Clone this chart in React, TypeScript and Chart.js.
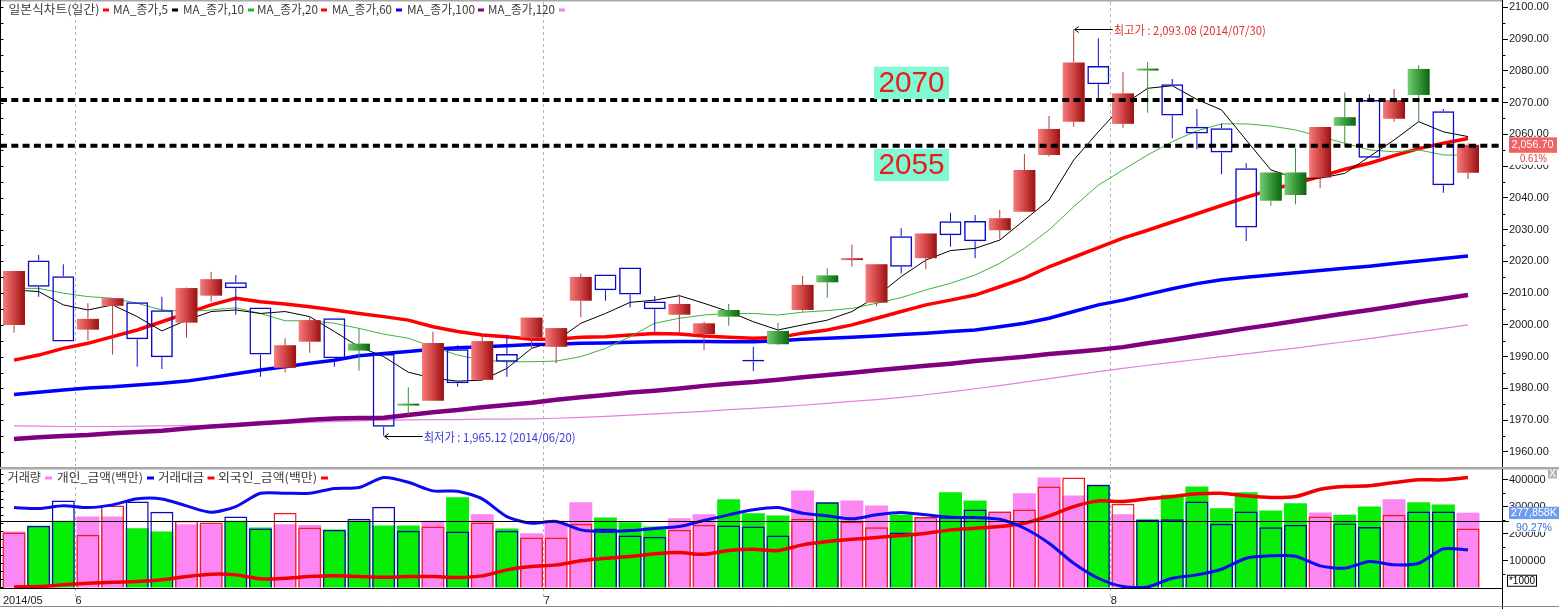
import React, { useEffect, useRef } from 'react';
import { Chart, registerables } from 'chart.js';

Chart.register(...registerables);

// ---------- data ----------
const MONTH_LABELS = ['2014/05', '6', '7', '8'];
const MONTH_STARTS = [-0.45, 2.5, 21.5, 44.5];

const PRICE_TICKS = [1960, 1970, 1980, 1990, 2000, 2010, 2020, 2030, 2040, 2050, 2060, 2070, 2080, 2090, 2100];
const AMOUNT_TICKS = [100000, 200000, 300000, 400000];

// r = red (up), b = blue hollow (down), g = green
const CANDLE_KIND = [
  'r', 'b', 'b', 'r', 'r', 'b', 'b', 'r', 'r', 'b',
  'b', 'r', 'r', 'b', 'g', 'b', 'g', 'r', 'b', 'r',
  'b', 'r', 'r', 'r', 'b', 'b', 'b', 'r', 'r', 'g',
  'b', 'g', 'r', 'g', 'r', 'r', 'b', 'r', 'b', 'b',
  'r', 'r', 'r', 'r', 'b', 'r', 'g', 'b', 'b', 'b',
  'b', 'g', 'g', 'r', 'g', 'b', 'r', 'g', 'b', 'r',
];

const OPEN = [2000.0, 2020.3, 2015.3, 1998.5, 2006.0, 2007.1, 2004.6, 2000.7, 2009.2, 2013.4, 2005.5, 1986.5, 1994.7, 2002.1, 1994.1, 1990.8, 1975.2, 1976.1, 1992.3, 1982.7, 1990.8, 1996.0, 1993.1, 2007.6, 2015.9, 2018.1, 2007.4, 2003.2, 1997.1, 2004.7, 1989.0, 1998.1, 2004.7, 2015.6, 2020.4, 2007.0, 2027.9, 2021.0, 2032.6, 2032.7, 2029.8, 2035.6, 2053.5, 2064.0, 2081.5, 2063.3, 2080.7, 2075.8, 2062.4, 2061.9, 2049.3, 2048.0, 2048.0, 2046.4, 2065.4, 2070.8, 2064.9, 2080.6, 2067.3, 2047.9];
const HIGH = [2017.0, 2022.0, 2019.1, 2006.8, 2008.4, 2007.1, 2008.9, 2011.8, 2016.7, 2015.7, 2005.5, 1995.8, 2002.8, 2002.1, 1998.9, 1991.5, 1980.4, 1997.9, 1993.6, 1996.8, 1996.8, 2002.3, 1999.0, 2016.2, 2015.9, 2018.1, 2009.1, 2009.6, 2001.0, 2006.6, 1993.1, 2000.7, 2015.4, 2017.8, 2025.2, 2019.1, 2030.4, 2028.8, 2035.3, 2034.6, 2036.2, 2053.8, 2065.8, 2093.08, 2090.2, 2079.7, 2082.8, 2077.4, 2068.0, 2063.3, 2050.9, 2048.0, 2055.6, 2062.3, 2073.2, 2072.6, 2074.3, 2081.8, 2068.0, 2057.2];
const LOW = [1997.5, 2008.9, 1994.8, 1995.2, 1990.7, 1986.8, 1986.1, 1996.0, 2007.3, 2003.2, 1983.7, 1985.0, 1991.2, 1986.8, 1985.6, 1965.12, 1971.6, 1976.1, 1980.5, 1982.5, 1983.7, 1992.6, 1987.9, 2002.4, 2007.6, 2005.5, 1997.9, 1997.4, 1992.1, 1999.7, 1985.5, 1993.7, 2004.2, 2008.6, 2018.3, 2005.9, 2016.2, 2017.5, 2024.6, 2021.0, 2027.0, 2035.6, 2053.0, 2062.4, 2071.0, 2062.1, 2066.8, 2058.8, 2055.3, 2047.4, 2026.4, 2037.5, 2038.0, 2043.0, 2056.1, 2052.6, 2064.0, 2064.0, 2041.6, 2045.9];
const CLOSE = [2017.0, 2012.0, 1994.8, 2001.9, 2008.4, 1995.5, 1989.8, 2011.6, 2014.4, 2011.5, 1990.7, 1993.6, 2001.5, 1989.5, 1991.9, 1967.9, 1974.6, 1994.3, 1981.6, 1994.9, 1988.4, 2002.3, 1999.0, 2015.1, 2010.9, 2009.6, 2004.9, 2006.6, 2000.5, 2002.6, 1988.5, 1993.9, 2012.6, 2013.4, 2021.0, 2019.1, 2018.3, 2028.8, 2028.2, 2026.3, 2033.6, 2048.8, 2061.7, 2082.6, 2075.8, 2072.9, 2080.1, 2065.9, 2060.3, 2054.3, 2030.7, 2039.1, 2040.9, 2062.3, 2062.7, 2052.6, 2070.8, 2072.4, 2044.0, 2056.7];

const MA5 = [2011.0, 2010.5, 2006.3, 2004.7, 2006.3, 2002.6, 1998.1, 2001.5, 2004.2, 2004.7, 2003.6, 2004.2, 2002.6, 1997.9, 1993.1, 1990.0, 1985.1, 1983.2, 1982.3, 1982.6, 1986.3, 1992.6, 1995.0, 2000.5, 2003.6, 2007.1, 2007.8, 2009.2, 2006.8, 2004.2, 2001.0, 1998.4, 2000.0, 2001.5, 2004.2, 2008.9, 2015.2, 2020.4, 2023.4, 2024.1, 2026.7, 2033.0, 2039.3, 2051.9, 2060.8, 2069.2, 2074.5, 2075.3, 2071.0, 2067.7, 2058.2, 2048.8, 2046.2, 2046.2, 2047.7, 2053.0, 2058.2, 2064.0, 2060.8, 2059.3];
const MA10 = [2011.5, 2011.5, 2010.0, 2008.9, 2008.4, 2006.8, 2004.7, 2004.2, 2004.7, 2005.4, 2003.6, 2001.3, 2001.3, 2000.5, 1998.9, 1997.1, 1995.8, 1993.1, 1990.5, 1988.9, 1988.4, 1988.4, 1988.6, 1990.0, 1992.6, 1996.3, 2000.5, 2002.1, 2003.1, 2003.6, 2003.6, 2003.1, 2004.0, 2004.5, 2005.2, 2006.8, 2008.6, 2011.0, 2013.1, 2015.7, 2019.4, 2024.1, 2029.9, 2037.2, 2044.0, 2048.8, 2053.5, 2057.7, 2061.1, 2063.3, 2063.3, 2062.6, 2061.4, 2059.3, 2057.2, 2055.1, 2054.5, 2055.1, 2053.5, 2053.4];
const MA20 = [1988.9, 1990.5, 1992.6, 1994.2, 1996.3, 1998.4, 2001.0, 2003.6, 2006.3, 2008.4, 2007.3, 2006.6, 2005.7, 2004.7, 2003.6, 2002.6, 2001.5, 1999.4, 1997.9, 1996.8, 1996.3, 1995.5, 1995.5, 1996.1, 1996.3, 1996.8, 1997.3, 1997.1, 1996.5, 1996.1, 1995.8, 1996.0, 1997.4, 1998.4, 2000.0, 2002.1, 2004.2, 2006.3, 2007.8, 2009.4, 2012.0, 2014.7, 2018.3, 2021.3, 2024.3, 2027.3, 2029.8, 2032.4, 2035.0, 2037.6, 2040.2, 2042.5, 2044.6, 2046.7, 2049.0, 2050.9, 2053.3, 2055.5, 2057.2, 2058.7];
const MA60 = [1978.1, 1978.8, 1979.5, 1980.1, 1980.5, 1981.1, 1981.6, 1982.3, 1983.4, 1984.6, 1985.8, 1986.8, 1987.9, 1988.9, 1990.3, 1991.0, 1991.6, 1992.3, 1992.8, 1993.1, 1993.4, 1993.8, 1993.9, 1994.2, 1994.3, 1994.5, 1994.7, 1994.8, 1994.8, 1994.7, 1994.7, 1995.0, 1995.5, 1995.8, 1996.1, 1996.5, 1997.0, 1997.4, 1997.9, 1998.4, 1999.4, 2000.5, 2002.1, 2004.2, 2006.3, 2007.8, 2009.6, 2011.4, 2013.0, 2014.2, 2015.0, 2015.7, 2016.4, 2017.1, 2017.8, 2018.5, 2019.3, 2020.1, 2020.9, 2021.7];
const MA100 = [1964.1, 1964.6, 1965.0, 1965.3, 1965.9, 1966.3, 1966.7, 1967.4, 1968.0, 1968.5, 1969.0, 1969.5, 1970.1, 1970.5, 1970.7, 1970.8, 1971.6, 1972.5, 1973.2, 1974.1, 1974.8, 1975.5, 1976.4, 1977.2, 1977.9, 1978.7, 1979.3, 1980.0, 1980.8, 1981.5, 1982.0, 1982.7, 1983.5, 1984.2, 1984.9, 1985.7, 1986.4, 1987.1, 1987.8, 1988.6, 1989.3, 1990.0, 1990.8, 1991.5, 1992.2, 1993.0, 1994.2, 1995.3, 1996.5, 1997.7, 1998.9, 2000.0, 2001.2, 2002.4, 2003.6, 2004.7, 2005.9, 2007.1, 2008.2, 2009.4];
const MA120 = [1968.2, 1968.1, 1968.0, 1968.0, 1968.0, 1968.1, 1968.2, 1968.3, 1968.4, 1968.6, 1968.8, 1969.0, 1969.3, 1969.6, 1969.8, 1970.0, 1970.1, 1970.2, 1970.2, 1970.3, 1970.3, 1970.4, 1970.6, 1970.9, 1971.2, 1971.6, 1972.0, 1972.4, 1972.8, 1973.3, 1973.7, 1974.2, 1974.7, 1975.3, 1975.9, 1976.5, 1977.2, 1978.0, 1978.9, 1979.9, 1980.9, 1982.0, 1983.1, 1984.2, 1985.3, 1986.3, 1987.3, 1988.2, 1989.1, 1990.0, 1990.9, 1991.8, 1992.7, 1993.7, 1994.7, 1995.7, 1996.8, 1997.8, 1998.9, 2000.0];

const REF_LEVELS = [2070.8, 2056.4];
const REF_LABELS = ['2070', '2055'];
const CHANGE_PCT = '0.61%';

// lower panel (x1000)
const VOLUME = [207800, 229000, 247600, 263600, 263600, 220100, 207800, 235000, 235000, 247600, 222700, 235000, 232600, 215200, 247600, 230100, 230100, 247600, 335300, 272100, 218900, 201500, 247600, 316700, 259800, 242400, 226400, 257300, 272100, 327900, 275800, 267300, 360200, 316700, 323000, 304500, 270000, 262000, 353900, 323000, 282200, 350200, 408600, 341600, 381400, 272100, 253500, 344200, 375100, 294400, 354000, 285900, 313000, 278400, 270000, 300700, 327900, 316700, 308200, 277858];
const TRADE_VALUE = [204100, 229000, 323000, 195500, 304500, 319300, 281000, 247600, 241300, 263600, 218900, 277300, 222700, 214000, 255000, 299600, 210400, 226400, 207800, 241300, 210400, 185500, 185500, 236400, 218900, 192900, 188100, 214000, 232600, 230100, 226400, 192900, 255000, 316700, 245000, 223800, 204100, 262000, 260200, 289600, 282200, 289600, 375100, 408600, 381400, 310800, 252000, 253500, 319300, 236400, 282200, 223800, 232600, 263600, 238000, 224400, 270000, 282200, 282200, 218900];
const INDIVIDUAL = [297000, 293300, 303300, 297000, 307100, 329400, 329000, 303300, 279600, 300800, 350200, 350200, 350200, 367700, 371400, 408600, 391100, 359100, 358000, 329400, 263600, 238700, 245400, 214100, 207800, 211500, 219000, 226400, 248700, 269900, 288500, 297000, 275800, 266200, 255000, 269900, 278800, 269900, 261000, 260000, 253500, 220100, 164300, 90000, 34200, 3300, 2000, 34200, 46800, 67700, 108600, 117500, 116300, 80300, 71400, 96300, 84000, 90000, 143500, 139800];
const FOREIGN = [2000, 3300, 9700, 15600, 19300, 21900, 28300, 40500, 49100, 46800, 32000, 34200, 40500, 43100, 40500, 37900, 40500, 40500, 37200, 43100, 65400, 77700, 84000, 98900, 108600, 114900, 124900, 129700, 123400, 137200, 142000, 137200, 158400, 171000, 179200, 185500, 192900, 201500, 214100, 220100, 226400, 238700, 266200, 300700, 321900, 319300, 329400, 337900, 348000, 350200, 340500, 334200, 337900, 365100, 375100, 377700, 390000, 400000, 400000, 408600];
const VOLUME_AVG = 246100;
const VOLUME_PCT = '90.27%';
const UNIT_LABEL = '*1000';

const LEGEND_TOP = ['일본식차트(일간)', 'MA_종가,5', 'MA_종가,10', 'MA_종가,20', 'MA_종가,60', 'MA_종가,100', 'MA_종가,120'];
const LEGEND_TOP_COLORS = ['#ff0000', '#000000', '#22bb22', '#ff0000', '#0000ff', '#800080', '#f080f0'];
const LEGEND_BOT = ['거래량', '개인_금액(백만)', '거래대금', '외국인_금액(백만)'];
const LEGEND_BOT_COLORS = ['#ff80f0', '#0000ff', '#ff0000', '#ff0000'];

// ---------- layout / style ----------
const W = 1559;
const TOP_H = 467;
const BOT_H = 142;
const AXIS_W = 57;
const X_MIN = -0.568;
const X_MAX = 60.38;
const Y_MIN = 1955.57;
const Y_MAX = 2101.67;
const BY_MIN = -2000;
const BY_MAX = 440380;
const AXIS_FONT = '11px "Liberation Sans", Arial, sans-serif';
const KR_FONT = '12px "Noto Sans CJK KR", sans-serif';

const LEG_TOP_TEXT_X = [[8.4, 99.5], [113, 168], [183, 244], [257, 318], [332, 392], [407, 475], [488, 555]];
const LEG_TOP_MARK_X = [103, 172, 248, 321, 396, 478, 559];
const LEG_BOT_TEXT_X = [[7.5, 41], [57, 143], [158, 204], [218, 317]];
const LEG_BOT_MARK_X = [45, 147, 207.5, 321];

const IDX = OPEN.map((_, i) => i);
const WICK = { r: '#b03c3c', b: '#0a0ac8', g: '#3c8c3c' } as Record<string, string>;

function fitText(ctx: CanvasRenderingContext2D, text: string, x: number, y: number, w: number, font: string, color: string, align = 'left') {
  ctx.save();
  ctx.font = font;
  ctx.fillStyle = color;
  ctx.textBaseline = 'middle';
  ctx.textAlign = 'left';
  const m = ctx.measureText(text).width || 1;
  const x0 = align === 'center' ? x - w / 2 : x;
  ctx.translate(x0, y);
  ctx.scale(w / m, 1);
  ctx.fillText(text, 0, 0);
  ctx.restore();
}

function bodyColor(c: any) {
  const i = c.dataIndex;
  const k = CANDLE_KIND[i];
  if (k === 'b') return 'rgba(255,255,255,0)';
  const chart = c.chart;
  const xs = chart.scales && chart.scales.x;
  if (!xs || !chart.chartArea) return k === 'r' ? '#d04848' : '#3a9a3a';
  const px = xs.getPixelForValue(i);
  const g = chart.ctx.createLinearGradient(px - 11, 0, px + 11, 0);
  if (k === 'r') {
    g.addColorStop(0, '#f67c7c');
    g.addColorStop(0.5, '#d04444');
    g.addColorStop(1, '#9a1010');
  } else {
    g.addColorStop(0, '#74cc74');
    g.addColorStop(0.5, '#3a9a3a');
    g.addColorStop(1, '#0c640c');
  }
  return g;
}

function xScale(showTicks: boolean) {
  return {
    type: 'linear',
    min: X_MIN,
    max: X_MAX,
    offset: false,
    bounds: 'data',
    display: true,
    grid: {
      offset: false,
      drawOnChartArea: true,
      drawTicks: showTicks,
      tickLength: 10,
      color: (c: any) => (c.index === 0 ? 'rgba(0,0,0,0)' : '#b4b4b4'),
      tickColor: (c: any) => (c.index === 0 ? 'rgba(0,0,0,0)' : '#b4b4b4'),
      tickBorderDash: [3, 3],
      lineWidth: 1,
    },
    border: { display: false, dash: [3, 3] },
    ticks: {
      display: showTicks,
      autoSkip: false,
      maxRotation: 0,
      align: 'start',
      padding: -4,
      font: { family: '"Liberation Sans", Arial, sans-serif', size: 11 },
      color: '#1a1a1a',
      callback: (_v: any, i: number) => MONTH_LABELS[i],
    },
    afterBuildTicks: (s: any) => {
      s.ticks = MONTH_STARTS.map((v) => ({ value: v }));
    },
    afterFit: (s: any) => {
      s.height = showTicks ? 21 : 0;
      s.paddingLeft = 0;
      s.paddingRight = 0;
    },
  };
}

function yScale(min: number, max: number, ticks: number[], fmt: (v: number) => string) {
  return {
    type: 'linear',
    position: 'right',
    min,
    max,
    bounds: 'data',
    beginAtZero: false,
    grid: { drawOnChartArea: false, drawTicks: true, tickLength: 6, color: '#000', tickColor: '#000' },
    border: { display: true, color: '#000', width: 1 },
    ticks: {
      autoSkip: false,
      padding: 1,
      font: { family: '"Liberation Sans", Arial, sans-serif', size: 11 },
      color: '#1a1a1a',
      callback: (v: any) => fmt(Number(v)),
    },
    afterBuildTicks: (s: any) => {
      s.ticks = ticks.map((v) => ({ value: v }));
    },
    afterFit: (s: any) => {
      s.width = AXIS_W;
      s.paddingTop = 0;
      s.paddingBottom = 0;
    },
  };
}

function lineDs(values: number[], color: string, width: number, order: number, tension = 0) {
  return {
    type: 'line',
    data: values.map((v, i) => ({ x: i, y: v })),
    borderColor: color,
    borderWidth: width,
    pointRadius: 0,
    tension,
    fill: false,
    order,
  };
}

const topOverlay = {
  id: 'topOverlay',
  afterDatasetsDraw(chart: any) {
    const { ctx, chartArea: ca } = chart;
    const ys = chart.scales.y;
    ctx.save();
    ctx.strokeStyle = '#000';
    ctx.lineWidth = 4;
    ctx.setLineDash([7, 4.3]);
    for (const lv of REF_LEVELS) {
      const y = ys.getPixelForValue(lv);
      ctx.beginPath();
      ctx.moveTo(ca.left, y);
      ctx.lineTo(ca.right - 3, y);
      ctx.stroke();
    }
    ctx.restore();
  },
  afterDraw(chart: any) {
    const { ctx, chartArea: ca } = chart;
    const xs = chart.scales.x;
    const ys = chart.scales.y;
    ctx.save();
    // frame
    ctx.fillStyle = '#a8a8a8';
    ctx.fillRect(0, 0, ca.right, 1.5);
    ctx.strokeStyle = '#000';
    ctx.lineWidth = 1;
    ctx.beginPath();
    ctx.moveTo(0.5, 0);
    ctx.lineTo(0.5, TOP_H);
    ctx.moveTo(ca.right + 0.5, 0);
    ctx.lineTo(ca.right + 0.5, TOP_H);
    ctx.stroke();
    // left ticks & right minor ticks
    ctx.beginPath();
    for (let v = 1960; v <= 2100; v += 5) {
      const y = Math.round(ys.getPixelForValue(v)) + 0.5;
      ctx.moveTo(0, y);
      ctx.lineTo(3.5, y);
      if (v % 10 !== 0) {
        ctx.moveTo(ca.right, y);
        ctx.lineTo(ca.right + 3.5, y);
      }
    }
    ctx.stroke();

    // legend
    LEGEND_TOP.forEach((t, i) => {
      const [a, b] = LEG_TOP_TEXT_X[i];
      fitText(ctx, t, a, 9.5, b - a, KR_FONT, '#3a3a3a');
      ctx.fillStyle = LEGEND_TOP_COLORS[i];
      ctx.fillRect(LEG_TOP_MARK_X[i], 8.5, 6, 3);
    });

    // reference labels
    const cx = xs.getPixelForValue(36.42);
    const boxes = [
      [2081.3, 2071.1],
      [2055.4, 2045.3],
    ];
    boxes.forEach(([hi, lo], i) => {
      const t = ys.getPixelForValue(hi);
      const b = ys.getPixelForValue(lo);
      ctx.fillStyle = '#80fad6';
      ctx.fillRect(cx - 37.5, t, 75, b - t);
      fitText(ctx, REF_LABELS[i], cx, (t + b) / 2 + 0.5, 66, '30px "Liberation Sans", Arial, sans-serif', '#ee1a1a', 'center');
    });

    // high / low annotations
    let hi = 0;
    let lo = 0;
    IDX.forEach((i) => {
      if (HIGH[i] > HIGH[hi]) hi = i;
      if (LOW[i] < LOW[lo]) lo = i;
    });
    const arrow = (x: number, y: number, len: number) => {
      ctx.strokeStyle = '#000';
      ctx.lineWidth = 1;
      ctx.beginPath();
      ctx.moveTo(x + 1, y);
      ctx.lineTo(x + len, y);
      ctx.moveTo(x + 1, y);
      ctx.lineTo(x + 5, y - 3);
      ctx.moveTo(x + 1, y);
      ctx.lineTo(x + 5, y + 3);
      ctx.stroke();
    };
    const hx = xs.getPixelForValue(hi);
    const hy = Math.round(ys.getPixelForValue(HIGH[hi])) + 0.5;
    arrow(hx, hy, 39);
    fitText(ctx, `최고가 : ${HIGH[hi].toLocaleString('en-US', { minimumFractionDigits: 2 })} (2014/07/30)`, hx + 40, hy + 1, 152, KR_FONT, '#e03434');
    const lx = xs.getPixelForValue(lo);
    const ly = Math.round(ys.getPixelForValue(LOW[lo])) + 0.5;
    arrow(lx, ly, 39);
    fitText(ctx, `최저가 : ${LOW[lo].toLocaleString('en-US', { minimumFractionDigits: 2 })} (2014/06/20)`, lx + 40, ly + 1, 152, KR_FONT, '#3a3ad6');

    // last price label
    const last = CLOSE[CLOSE.length - 1];
    const py = ys.getPixelForValue(last);
    ctx.fillStyle = '#f26262';
    ctx.fillRect(ca.right + 7, py - 7.5, 48, 15.5);
    fitText(ctx, last.toLocaleString('en-US', { minimumFractionDigits: 2 }), ca.right + 30.5, py + 0.5, 42, AXIS_FONT, '#ffffff', 'center');
    ctx.fillStyle = '#ffffff';
    ctx.fillRect(ca.right + 7, py + 8.5, 48, 11.5);
    fitText(ctx, CHANGE_PCT, ca.right + 31.5, py + 14.5, 27, AXIS_FONT, '#e03c3c', 'center');
    ctx.restore();
  },
};

const botOverlay = {
  id: 'botOverlay',
  afterDatasetsDraw(chart: any) {
    const { ctx } = chart;
    const ys = chart.scales.y;
    const y = Math.round(ys.getPixelForValue(VOLUME_AVG)) + 0.5;
    ctx.save();
    ctx.strokeStyle = '#000';
    ctx.lineWidth = 1.2;
    ctx.beginPath();
    ctx.moveTo(0, y);
    ctx.lineTo(W, y);
    ctx.stroke();
    ctx.restore();
  },
  afterDraw(chart: any) {
    const { ctx, chartArea: ca } = chart;
    const ys = chart.scales.y;
    ctx.save();
    ctx.fillStyle = '#a8a8a8';
    ctx.fillRect(0, 0, W, 2.5);
    ctx.strokeStyle = '#000';
    ctx.lineWidth = 1;
    ctx.beginPath();
    ctx.moveTo(0.5, 2);
    ctx.lineTo(0.5, ca.bottom);
    ctx.moveTo(ca.right + 0.5, 2);
    ctx.lineTo(ca.right + 0.5, BOT_H);
    ctx.moveTo(0, ca.bottom + 0.5);
    ctx.lineTo(ca.right, ca.bottom + 0.5);
    ctx.stroke();
    ctx.beginPath();
    for (let v = 0; v <= 430000; v += 30000) {
      const y = Math.round(ys.getPixelForValue(v)) + 0.5;
      ctx.moveTo(0, y);
      ctx.lineTo(3.5, y);
    }
    for (let v = 50000; v <= 400000; v += 100000) {
      const y = Math.round(ys.getPixelForValue(v)) + 0.5;
      ctx.moveTo(ca.right, y);
      ctx.lineTo(ca.right + 3.5, y);
    }
    ctx.stroke();
    ctx.strokeStyle = '#8a8a8a';
    ctx.beginPath();
    ctx.moveTo(0, BOT_H - 2.5);
    ctx.lineTo(W, BOT_H - 2.5);
    ctx.stroke();

    LEGEND_BOT.forEach((t, i) => {
      const [a, b] = LEG_BOT_TEXT_X[i];
      fitText(ctx, t, a, 10.7, b - a, KR_FONT, '#3a3a3a');
      ctx.fillStyle = LEGEND_BOT_COLORS[i];
      ctx.fillRect(LEG_BOT_MARK_X[i], 9.5, 7, 3);
    });

    // last volume label
    const lastV = VOLUME[VOLUME.length - 1];
    const py = ys.getPixelForValue(lastV);
    ctx.fillStyle = '#6e9cf0';
    ctx.fillRect(ca.right + 7, py - 6, 50, 12.6);
    fitText(ctx, `${lastV.toLocaleString('en-US')}K`, ca.right + 32, py + 0.5, 46, AXIS_FONT, '#ffffff', 'center');
    ctx.fillStyle = '#ffffff';
    ctx.fillRect(ca.right + 7, py + 6.6, 50, 12.5);
    fitText(ctx, VOLUME_PCT, ca.right + 32, py + 15, 36, AXIS_FONT, '#3a72e0', 'center');

    // unit box
    const uy = ys.getPixelForValue(25000);
    ctx.fillStyle = '#ffffff';
    ctx.fillRect(ca.right + 5, uy - 5, 29, 10.5);
    ctx.strokeStyle = '#000';
    ctx.strokeRect(ca.right + 5.5, uy - 5.5, 29, 11);
    fitText(ctx, UNIT_LABEL, ca.right + 20, uy + 0.5, 26, '10px "Liberation Sans", Arial, sans-serif', '#000', 'center');

    // close button
    ctx.fillStyle = '#b4b4b4';
    ctx.fillRect(W - 11, 2.5, 9, 9);
    fitText(ctx, 'X', W - 6.5, 7.5, 7, '10px "Liberation Sans", Arial, sans-serif', '#ffffff', 'center');
    ctx.restore();
  },
};

function topConfig(): any {
  const body = IDX.map((i) => ({ x: i, y: [OPEN[i], CLOSE[i]] }));
  const wickUp = IDX.map((i) => ({ x: i, y: [Math.max(OPEN[i], CLOSE[i]), HIGH[i]] }));
  const wickDn = IDX.map((i) => ({ x: i, y: [LOW[i], Math.min(OPEN[i], CLOSE[i])] }));
  const wickColor = (c: any) => WICK[CANDLE_KIND[c.dataIndex]];
  const wick = (data: any[]) => ({
    type: 'bar',
    data,
    grouped: false,
    barThickness: 1,
    backgroundColor: wickColor,
    borderWidth: 0,
    inflateAmount: 0,
    order: 2,
  });
  return {
    type: 'bar',
    data: {
      datasets: [
        {
          type: 'bar',
          data: body,
          grouped: false,
          barThickness: 22,
          backgroundColor: bodyColor,
          borderColor: (c: any) => (CANDLE_KIND[c.dataIndex] === 'b' ? '#0a0ac8' : 'rgba(0,0,0,0)'),
          borderWidth: (c: any) => (CANDLE_KIND[c.dataIndex] === 'b' ? 1.5 : 0),
          borderSkipped: false,
          inflateAmount: 0,
          order: 1,
        },
        wick(wickUp),
        wick(wickDn),
        lineDs(MA5, '#000000', 1, 3),
        lineDs(MA10, '#3cb43c', 1, 4),
        lineDs(MA20, '#ff0000', 3.5, 5),
        lineDs(MA60, '#0000ff', 3.5, 6),
        lineDs(MA100, '#800080', 4.5, 7),
        lineDs(MA120, '#e47ee4', 1.2, 8),
      ],
    },
    options: {
      responsive: false,
      maintainAspectRatio: false,
      animation: false,
      devicePixelRatio: 1,
      events: [],
      layout: { padding: { top: 2, bottom: 1, left: 0, right: 0 } },
      plugins: { legend: { display: false }, tooltip: { enabled: false } },
      scales: {
        x: xScale(false),
        y: yScale(Y_MIN, Y_MAX, PRICE_TICKS, (v) => v.toFixed(2)),
      },
    },
    plugins: [topOverlay],
  };
}

function botConfig(): any {
  return {
    type: 'bar',
    data: {
      datasets: [
        lineDs(INDIVIDUAL, '#0a0af0', 3, 0, 0.25),
        lineDs(FOREIGN, '#f00000', 3.5, 0, 0.25),
        {
          type: 'bar',
          data: TRADE_VALUE.map((v, i) => ({ x: i, y: v })),
          grouped: false,
          barThickness: 23,
          backgroundColor: 'rgba(0,0,0,0)',
          borderColor: (c: any) => (CANDLE_KIND[c.dataIndex] === 'r' ? '#f01c1c' : '#0a0ab4'),
          borderWidth: 1.4,
          borderSkipped: 'start',
          inflateAmount: 0,
          order: 2,
        },
        {
          type: 'bar',
          data: VOLUME.map((v, i) => ({ x: i, y: v })),
          grouped: false,
          barThickness: 23,
          backgroundColor: (c: any) => (CANDLE_KIND[c.dataIndex] === 'r' ? '#fc86f2' : '#06ee06'),
          borderWidth: 0,
          inflateAmount: 0,
          order: 3,
        },
      ],
    },
    options: {
      responsive: false,
      maintainAspectRatio: false,
      animation: false,
      devicePixelRatio: 1,
      events: [],
      layout: { padding: { top: 2, bottom: 0, left: 0, right: 0 } },
      plugins: { legend: { display: false }, tooltip: { enabled: false } },
      scales: {
        x: xScale(true),
        y: yScale(BY_MIN, BY_MAX, AMOUNT_TICKS, (v) => String(v)),
      },
    },
    plugins: [botOverlay],
  };
}

export default function App() {
  const topRef = useRef<HTMLCanvasElement>(null);
  const botRef = useRef<HTMLCanvasElement>(null);
  useEffect(() => {
    document.body.style.margin = '0';
    const c1 = new Chart(topRef.current as HTMLCanvasElement, topConfig());
    const c2 = new Chart(botRef.current as HTMLCanvasElement, botConfig());
    return () => {
      c1.destroy();
      c2.destroy();
    };
  }, []);
  return (
    <div style={{ position: 'relative', width: W, height: TOP_H + BOT_H, background: '#fff', overflow: 'hidden' }}>
      <canvas ref={topRef} width={W} height={TOP_H} style={{ position: 'absolute', left: 0, top: 0, width: W, height: TOP_H }} />
      <canvas ref={botRef} width={W} height={BOT_H} style={{ position: 'absolute', left: 0, top: TOP_H, width: W, height: BOT_H }} />
    </div>
  );
}
